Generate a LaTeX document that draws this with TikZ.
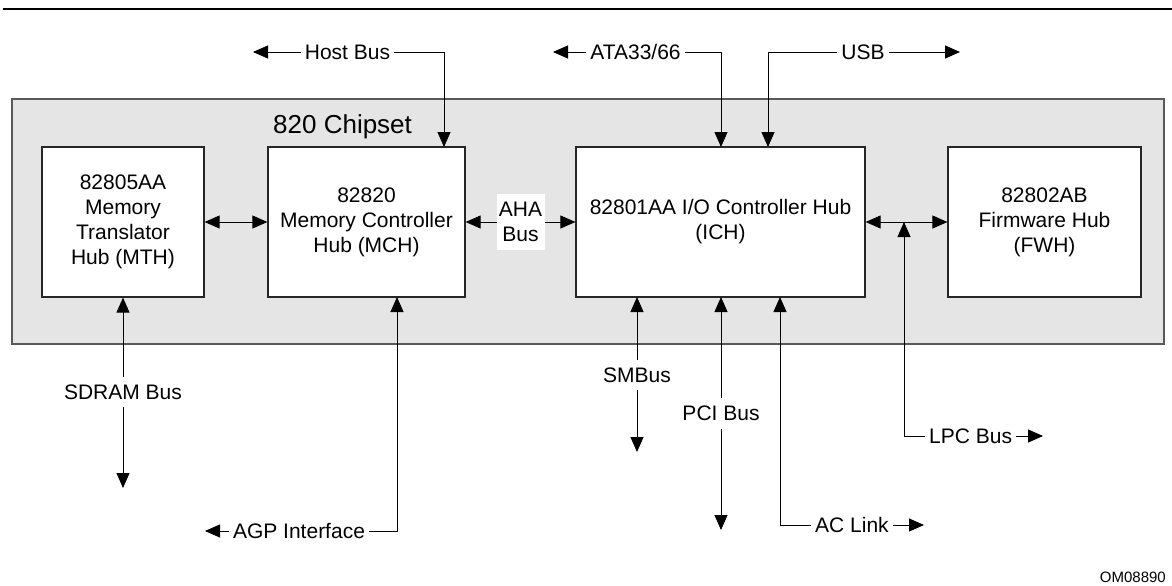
\documentclass[tikz,border=0pt]{standalone}
\usepackage{fontspec}
\setmainfont{Liberation Sans}
\usetikzlibrary{arrows.meta}
\definecolor{chipgray}{HTML}{E5E5E5}
\begin{document}
\begin{tikzpicture}[x=1pt,y=-1pt,
  txt/.style={font=\fontsize{21}{25}\selectfont, inner sep=0pt},
  box/.style={txt, draw=black!85, line width=1.2pt, fill=white, minimum height=150pt, align=center},
  conn/.style={line width=0.9pt},
  tip/.style={conn, -{Triangle[length=15pt,width=13pt]}},
  both/.style={conn, {Triangle[length=15pt,width=13pt]}-{Triangle[length=15pt,width=13pt]}},
  lbl/.style={txt, inner xsep=4pt, inner ysep=0pt},
  vlbl/.style={txt, inner xsep=2pt, inner ysep=0pt, minimum height=30pt},
]
\useasboundingbox (0,0) rectangle (1172,586);
\draw[line width=2.5pt] (3,9) -- (1172,9);

% chipset frame
\node[draw=black!65, line width=1.5pt, fill=chipgray, minimum width=1152pt, minimum height=245pt, inner sep=0pt] (chip) at (588,221.5) {};
\node[txt, font=\fontsize{26}{30}\selectfont, anchor=base west] (chiplbl) at (273,133) {820 Chipset};

% hubs
\node[box, minimum width=162pt] (mth) at (123,222) {82805AA\\Memory\\Translator\\Hub (MTH)};
\node[box, minimum width=197pt] (mch) at (366.5,222) {82820\\Memory Controller\\Hub (MCH)};
\node[box, minimum width=289pt] (ich) at (720.5,222) {82801AA I/O Controller Hub\\(ICH)};
\node[box, minimum width=193pt] (fwh) at (1044.5,222) {82802AB\\Firmware Hub\\(FWH)};

% attach points and free ends
\coordinate (hostin) at (444,147);
\coordinate (hosttip) at (253,52);
\coordinate (atain) at (721,147);
\coordinate (atatip) at (553,52);
\coordinate (usbin) at (768,147);
\coordinate (usbtip) at (960,52);
\coordinate (agpin) at (397,297);
\coordinate (agptip) at (205,531);
\coordinate (sdramtip) at (123,488);
\coordinate (smbin) at (637,297);
\coordinate (smbtip) at (637,452);
\coordinate (pciin) at (721,297);
\coordinate (pcitip) at (721,530);
\coordinate (acin) at (780,297);
\coordinate (actip) at (924,525);
\coordinate (lpcj) at (904,222);
\coordinate (lpctip) at (1043,436);

% labels
\node[lbl] (host) at (347.5,52) {Host Bus};
\node[lbl] (ata) at (635.5,52) {ATA33/66};
\node[lbl] (usb) at (863,52) {USB};
\node[lbl] (agp) at (299,531) {AGP Interface};
\node[vlbl] (sdram) at (123,392) {SDRAM Bus};
\node[vlbl] (smb) at (637,375) {SMBus};
\node[vlbl] (pci) at (721,413.5) {PCI Bus};
\node[lbl, anchor=west] (ac) at (811,525) {AC Link};
\node[lbl, anchor=west] (lpc) at (925,436) {LPC Bus};
\node[txt, font=\fontsize{15}{18}\selectfont, anchor=east] (om) at (1166,577) {OM08890};

% connectors inside
\draw[both] (mth.east) -- (mch.west);
\draw[both] (mch.east) -- node[txt, fill=white, align=center, minimum width=48pt, minimum height=56pt] (aha) {AHA\\Bus} (ich.west);
\draw[both] (ich.east) -- (fwh.west);

% top buses
\draw[tip] (host.west) -- (hosttip);
\draw[tip] (host.east) -| (hostin);
\draw[tip] (ata.west) -- (atatip);
\draw[tip] (ata.east) -| (atain);
\draw[tip] (usb.west) -| (usbin);
\draw[tip] (usb.east) -- (usbtip);

% bottom buses
\draw[tip] (sdram.north) -- (mth.south);
\draw[tip] (sdram.south) -- (sdramtip);
\draw[tip] (agp.east) -| (agpin);
\draw[tip] (agp.west) -- (agptip);
\draw[tip] (smb.north) -- (smbin);
\draw[tip] (smb.south) -- (smbtip);
\draw[tip] (pci.north) -- (pciin);
\draw[tip] (pci.south) -- (pcitip);
\draw[tip] (ac.west) -| (acin);
\draw[tip] (ac.east) -- (actip);
\draw[tip] (lpc.west) -| (lpcj);
\draw[tip] (lpc.east) -- (lpctip);
\end{tikzpicture}
\end{document}
